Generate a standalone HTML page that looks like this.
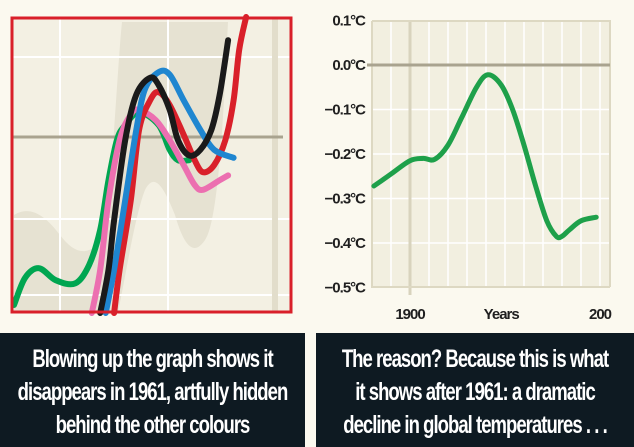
<!DOCTYPE html>
<html><head><meta charset="utf-8"><style>
body{margin:0;width:634px;height:447px;background:#fbf9ef;overflow:hidden;position:relative;font-family:"Liberation Sans",sans-serif}
.panel{position:absolute;top:333px;height:114px;background:#0e1a22;color:#fff;font-weight:bold;overflow:hidden}
.panel div{position:absolute;left:-100px;right:-100px;text-align:center;font-size:25px;line-height:33px;letter-spacing:-1.3px;transform:scaleX(0.74);transform-origin:center;white-space:nowrap}
svg text{font-family:"Liberation Sans",sans-serif;font-weight:bold;letter-spacing:-1px}
</style></head><body>
<svg width="634" height="330" style="position:absolute;left:0;top:0">
<g id="left">
<rect x="12" y="18" width="279" height="294" fill="#f3f0e3"/>
<path d="M14,215 C30,205 45,215 60,235 C75,255 90,258 105,235 C112,180 118,60 122,22 L228,22 C225,80 220,220 205,240 C195,255 185,250 175,215 C165,190 155,170 145,190 C135,215 125,280 118,312 L14,312 Z" fill="#e6e2d2"/>
<g stroke="#fff" stroke-width="2">
<line x1="60" y1="18" x2="60" y2="312"/><line x1="168" y1="18" x2="168" y2="312"/>
<line x1="12" y1="57" x2="291" y2="57"/><line x1="12" y1="219" x2="291" y2="219"/><line x1="12" y1="295" x2="291" y2="295"/>
</g>
<rect x="272" y="18" width="6" height="294" fill="#e2ddcb"/>
<line x1="12" y1="137" x2="283" y2="137" stroke="#a9a38f" stroke-width="3"/>
<g id="leftSeries"></g>
<rect x="12" y="18" width="279" height="294" fill="none" stroke="#d9202a" stroke-width="3"/>
</g>
<g id="right">
<rect x="372" y="21" width="238" height="266" fill="#f2efe0"/>
<g id="rgrid"></g>
<g id="rticks"></g>
<g id="rline"></g>
</g>
</svg>
<div class="panel" style="left:0;width:305px">
<div style="top:10px">Blowing up the graph shows it</div>
<div style="top:43px">disappears in 1961, artfully hidden</div>
<div style="top:76px">behind the other colours</div>
</div>
<div class="panel" style="left:316px;width:318px">
<div style="top:10px">The reason? Because this is what</div>
<div style="top:43px">it shows after 1961: a dramatic</div>
<div style="top:76px">decline in global temperatures . . .</div>
</div>
<script>
// Left chart data: t (arbitrary time units), anomaly in °C
const greenT=[0,4,9,15,22,27,31,34,37,40,45,52,56,59,63];
const greenV=[-0.21,-0.176,-0.164,-0.179,-0.183,-0.16,-0.116,-0.054,-0.004,0.015,0.031,0.015,-0.016,-0.029,-0.029];
const pinkT=[28,31,34,38,42,45,51,56,61,65,68,74,77];
const pinkV=[-0.22,-0.166,-0.079,-0.004,0.028,0.034,0.021,-0.004,-0.035,-0.06,-0.066,-0.054,-0.048];
const blackT=[31,34,36,40,44,49,52,56,59,63,67,71,74,77];
const blackV=[-0.22,-0.166,-0.104,-0.004,0.053,0.074,0.065,0.034,-0.004,-0.023,-0.016,0.009,0.053,0.121];
const blueT=[33,36,40,44,47,52,56,61,67,72,79];
const blueV=[-0.22,-0.166,-0.079,0.009,0.059,0.081,0.078,0.046,0.009,-0.016,-0.026];
const redT=[36,38,42,45,49,52,56,61,65,68,72,76,79,81,83.5];
const redV=[-0.22,-0.166,-0.079,0.009,0.046,0.056,0.04,0.003,-0.029,-0.044,-0.035,-0.004,0.046,0.109,0.15];
// Right chart data
const years=[1881,1890,1900,1907,1913,1920,1927,1935,1941,1948,1954,1960,1966,1972,1977,1980,1984,1990,1998];
const temps=[-0.272,-0.245,-0.215,-0.21,-0.212,-0.18,-0.12,-0.05,-0.022,-0.045,-0.1,-0.18,-0.27,-0.35,-0.385,-0.385,-0.37,-0.35,-0.342];
const yTicks=[0.1,0,-0.1,-0.2,-0.3,-0.4,-0.5];
const yTickLabels=["0.1°C","0.0°C","\u22120.1°C","\u22120.2°C","\u22120.3°C","\u22120.4°C","\u22120.5°C"];
const xLabels=["1900","Years","200"];
const xLabelYears=[1900,1948,2000];

const NS="http://www.w3.org/2000/svg";
const xL=t=>14+t*2.78, yL=v=>137-v*800;
const xR=y=>410+(y-1900)*1.9, yR=v=>65-v*445;
function smooth(pts){
 let d="M"+pts[0][0].toFixed(1)+","+pts[0][1].toFixed(1);
 for(let i=0;i<pts.length-1;i++){
  const p0=pts[i-1]||pts[i],p1=pts[i],p2=pts[i+1],p3=pts[i+2]||p2;
  const c1=[p1[0]+(p2[0]-p0[0])/6,p1[1]+(p2[1]-p0[1])/6],c2=[p2[0]-(p3[0]-p1[0])/6,p2[1]-(p3[1]-p1[1])/6];
  d+=" C"+c1.map(n=>n.toFixed(1))+" "+c2.map(n=>n.toFixed(1))+" "+p2.map(n=>n.toFixed(1));
 }
 return d;
}
const lg=document.getElementById('leftSeries');
[[greenT,greenV,"#00a651","green-series"],[pinkT,pinkV,"#ec6fb0","pink-series"],[redT,redV,"#d9202a","red-series"],[blueT,blueV,"#1f86d0","blue-series"],[blackT,blackV,"#1a1a1a","black-series"]].forEach(s=>{
 const p=document.createElementNS(NS,'path');
 p.setAttribute('d',smooth(s[0].map((t,i)=>[xL(t),yL(s[1][i])])));
 p.setAttribute('fill','none');p.setAttribute('stroke',s[2]);p.setAttribute('stroke-width','6');p.setAttribute('stroke-linecap','round');
 
 
 lg.appendChild(p);
});
const rg=document.getElementById('rgrid');
for(let yr=1890;yr<=2000;yr+=10){
 if(yr===1900)continue;
 const l=document.createElementNS(NS,'line');
 l.setAttribute('x1',xR(yr));l.setAttribute('x2',xR(yr));l.setAttribute('y1',21);l.setAttribute('y2',287);
 l.setAttribute('stroke','#fff');l.setAttribute('stroke-width','1.5');
 
 
 rg.appendChild(l);
}
yTicks.forEach((v,i)=>{
 if(v!==0&&i>0&&i<yTicks.length-1){
  const l=document.createElementNS(NS,'line');
  l.setAttribute('x1',372);l.setAttribute('x2',610);l.setAttribute('y1',yR(v));l.setAttribute('y2',yR(v));
  l.setAttribute('stroke','#fff');l.setAttribute('stroke-width','1.5');
  
  
  rg.appendChild(l);
 }
});
const v1900=document.createElementNS(NS,'line');
v1900.setAttribute('x1',xR(1900));v1900.setAttribute('x2',xR(1900));v1900.setAttribute('y1',21);v1900.setAttribute('y2',295);
v1900.setAttribute('stroke','#d8d3bd');v1900.setAttribute('stroke-width','3');


rg.appendChild(v1900);
const axes=document.createElementNS(NS,'path');
axes.setAttribute('d','M372,21 L372,287 L610,287 M372,21 L610,21 L610,287');
axes.setAttribute('fill','none');axes.setAttribute('stroke','#ddd8c2');axes.setAttribute('stroke-width','2');


rg.appendChild(axes);
const z=document.createElementNS(NS,'line');
z.setAttribute('x1',367);z.setAttribute('x2',610);z.setAttribute('y1',yR(0));z.setAttribute('y2',yR(0));
z.setAttribute('stroke','#a9a38f');z.setAttribute('stroke-width','3');


rg.appendChild(z);
const rt=document.getElementById('rticks');
yTicks.forEach((v,i)=>{
 const t=document.createElementNS(NS,'text');
 t.setAttribute('x',365);t.setAttribute('y',yR(v)+5);t.setAttribute('text-anchor','end');
 t.setAttribute('font-size','15');t.setAttribute('fill','#1f1f1f');
 t.textContent=yTickLabels[i];
 
 
 rt.appendChild(t);
});
xLabels.forEach((s,i)=>{
 const t=document.createElementNS(NS,'text');
 t.setAttribute('x',xR(xLabelYears[i]));t.setAttribute('y',319);t.setAttribute('text-anchor','middle');
 t.setAttribute('font-size','15');t.setAttribute('fill','#1f1f1f');
 t.textContent=s;
 
 
 rt.appendChild(t);
});
const rl=document.createElementNS(NS,'path');
rl.setAttribute('d',smooth(years.map((y,i)=>[xR(y),yR(temps[i])])));
rl.setAttribute('fill','none');rl.setAttribute('stroke','#1ea04a');rl.setAttribute('stroke-width','5');rl.setAttribute('stroke-linecap','round');


document.getElementById('rline').appendChild(rl);
</script>
</body></html>
